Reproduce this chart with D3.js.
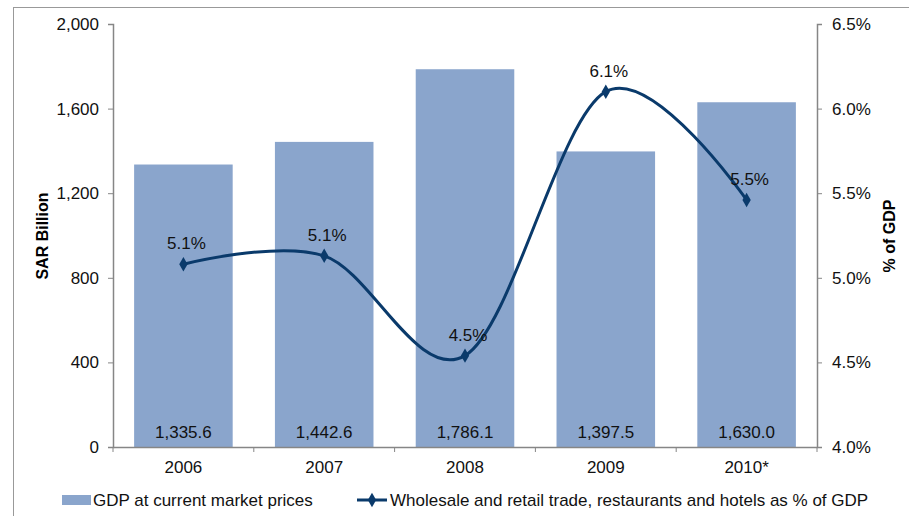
<!DOCTYPE html>
<html lang="en">
<head>
<meta charset="UTF-8">
<title>GDP and wholesale/retail share</title>
<script src="https://d3js.org/d3.v7.min.js"></script>
<style>
    body { margin: 0; background: #fff; }
    svg { display: block; font-family: Arial, 'Liberation Sans', sans-serif; }
    .axis path, .axis line { stroke: #868686; }
    .axis text { font-size: 17px; fill: #111; }
</style>
</head>
<body>
<svg id="chart"></svg>
<script>
// data
const years = ["2006", "2007", "2008", "2009", "2010*"];
const gdp = [1335.6, 1442.6, 1786.1, 1397.5, 1630.0];
const tradeShare = [5.08, 5.13, 4.54, 6.10, 5.46];
const leftTicks = [0, 400, 800, 1200, 1600, 2000];
const rightTicks = [4.0, 4.5, 5.0, 5.5, 6.0, 6.5];

const width = 909, height = 516;
const margin = { top: 24, right: 92, bottom: 69, left: 113 };
const fs = 17;

const svg = d3.select("#chart").attr("width", width).attr("height", height);

// outer frame
svg.append("rect")
    .attr("x", 13.5).attr("y", 7.5)
    .attr("width", width).attr("height", height)
    .attr("fill", "none").attr("stroke", "#999");

const x = d3.scaleBand()
    .domain(years)
    .range([margin.left, width - margin.right])
    .paddingInner(0.3).paddingOuter(0.15);

const y = d3.scaleLinear().domain([0, 2000]).range([height - margin.bottom, margin.top]);
const y2 = d3.scaleLinear().domain([4.0, 6.5]).range([height - margin.bottom, margin.top]);

const barColor = "#8aa5cc";
const lineColor = "#0a3a6b";

// bars
svg.append("g")
    .selectAll("rect")
    .data(years)
    .join("rect")
    .attr("x", d => x(d))
    .attr("width", x.bandwidth())
    .attr("y", (d, i) => y(gdp[i]))
    .attr("height", (d, i) => y(0) - y(gdp[i]))
    .attr("fill", barColor);

// bar value labels
svg.append("g")
    .selectAll("text")
    .data(years)
    .join("text")
    .attr("x", d => x(d) + x.bandwidth() / 2)
    .attr("y", y(0) - 9)
    .attr("text-anchor", "middle")
    .attr("font-size", fs)
    .attr("fill", "#111")
    .text((d, i) => d3.format(",.1f")(gdp[i]));

// axes
const step = x.step();
const bottomAxis = svg.append("g")
    .attr("class", "axis")
    .attr("transform", `translate(0,${y(0)})`)
    .call(d3.axisBottom(x).tickSize(0).tickPadding(14));
// category separator ticks
bottomAxis.selectAll(".sep")
    .data(d3.range(years.length + 1))
    .join("line")
    .attr("class", "sep")
    .attr("x1", i => margin.left + i * step).attr("x2", i => margin.left + i * step)
    .attr("y1", 0).attr("y2", 5);

svg.append("g")
    .attr("class", "axis")
    .attr("transform", `translate(${margin.left},0)`)
    .call(d3.axisLeft(y).tickValues(leftTicks).tickSize(5).tickPadding(9).tickFormat(d3.format(",")));

svg.append("g")
    .attr("class", "axis")
    .attr("transform", `translate(${width - margin.right},0)`)
    .call(d3.axisRight(y2).tickValues(rightTicks).tickSize(5).tickPadding(10).tickFormat(d => d.toFixed(1) + "%"));

svg.selectAll(".axis .domain").attr("stroke-width", 1.5);

// axis titles
svg.append("text")
    .attr("transform", `translate(48,236) rotate(-90)`)
    .attr("text-anchor", "middle")
    .attr("font-size", 16).attr("font-weight", "bold")
    .text("SAR Billion");

svg.append("text")
    .attr("transform", `translate(895,236) rotate(-90)`)
    .attr("text-anchor", "middle")
    .attr("font-size", 16).attr("font-weight", "bold")
    .text("% of GDP");

// smoothed line
const line = d3.line()
    .x((d, i) => x(years[i]) + x.bandwidth() / 2)
    .y(d => y2(d))
    .curve(d3.curveCardinal.tension(0));

svg.append("path")
    .datum(tradeShare)
    .attr("d", line)
    .attr("fill", "none")
    .attr("stroke", lineColor)
    .attr("stroke-width", 3);

const diamond = d3.symbol().type(d3.symbolDiamond).size(60);

svg.append("g")
    .selectAll("path")
    .data(tradeShare)
    .join("path")
    .attr("transform", (d, i) => `translate(${x(years[i]) + x.bandwidth() / 2},${y2(d)})`)
    .attr("d", diamond)
    .attr("fill", lineColor);

svg.append("g")
    .selectAll("text")
    .data(tradeShare)
    .join("text")
    .attr("x", (d, i) => x(years[i]) + x.bandwidth() / 2 + 3)
    .attr("y", d => y2(d) - 15)
    .attr("text-anchor", "middle")
    .attr("font-size", fs)
    .attr("fill", "#111")
    .text(d => d.toFixed(1) + "%");

// legend
const legend = svg.append("g").attr("font-size", fs).attr("fill", "#111");
legend.append("rect")
    .attr("x", 62).attr("y", 495).attr("width", 29).attr("height", 10)
    .attr("fill", barColor);
legend.append("text")
    .attr("x", 93).attr("y", 506)
    .text("GDP at current market prices");

legend.append("line")
    .attr("x1", 357).attr("x2", 387).attr("y1", 500).attr("y2", 500)
    .attr("stroke", lineColor).attr("stroke-width", 3);
legend.append("path")
    .attr("transform", "translate(372,500)")
    .attr("d", diamond)
    .attr("fill", lineColor);
legend.append("text")
    .attr("x", 390).attr("y", 506)
    .text("Wholesale and retail trade, restaurants and hotels as % of GDP");
</script>
</body>
</html>
